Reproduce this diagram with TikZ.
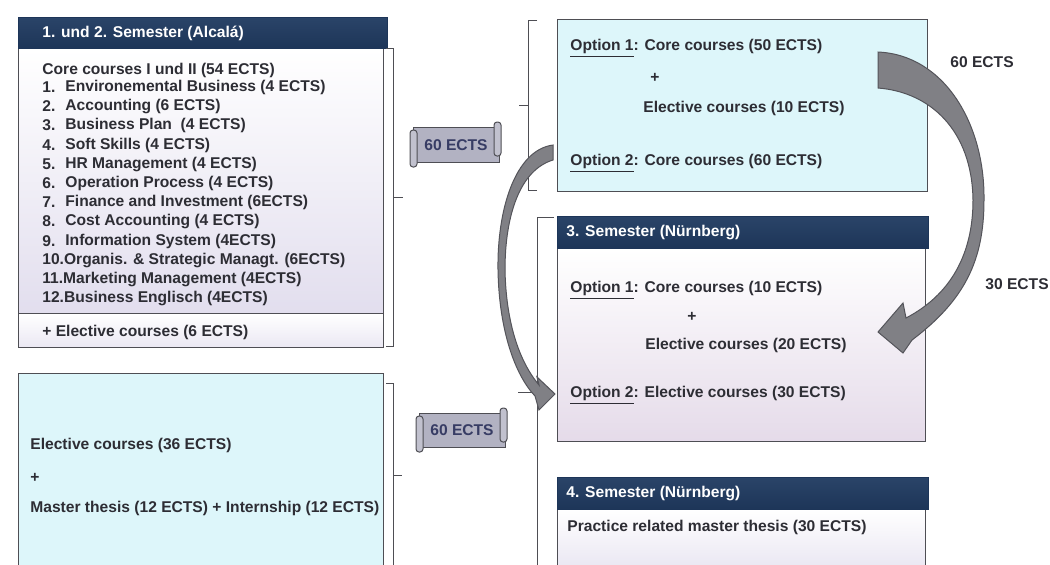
\documentclass[tikz,border=0pt]{standalone}
\usepackage{fontspec}
\setmainfont{Liberation Sans}
\usetikzlibrary{positioning}

\definecolor{navy}{RGB}{29,53,88}
\definecolor{navytop}{RGB}{42,68,104}
\definecolor{ink}{RGB}{45,45,52}
\definecolor{frame}{RGB}{78,78,84}
\definecolor{paleblue}{RGB}{221,246,250}
\definecolor{lilac}{RGB}{226,222,238}
\definecolor{scrollfill}{RGB}{178,178,194}
\definecolor{scrollink}{RGB}{55,60,100}
\definecolor{arrowgray}{RGB}{128,128,133}
\definecolor{arrowedge}{RGB}{84,84,90}

\begin{document}
\begin{tikzpicture}[x=0.5pt,y=-0.5pt]
  \tikzstyle{txt}=[anchor=west,inner sep=0pt,text=ink,font=\fontsize{7.8}{9}\selectfont\bfseries]
  \tikzstyle{hdrtxt}=[txt,text=white]
  \tikzstyle{hdr}=[anchor=north west,inner sep=0pt,draw=navy,top color=navytop,bottom color=navy,minimum height=16pt]
  \tikzstyle{panel}=[anchor=north west,inner sep=0pt,draw=frame,line width=0.6pt]
  \tikzstyle{brace}=[draw=frame,line width=0.5pt]
  \tikzstyle{scroll}=[draw=frame,fill=scrollfill,line width=0.5pt,inner sep=0pt,text=scrollink,font=\fontsize{7.8}{9}\selectfont\bfseries]
  \tikzstyle{roll}=[draw=frame,fill=scrollfill!80!white,line width=0.5pt,rounded corners=1.5pt]
  \tikzstyle{bigarrow}=[fill=arrowgray,draw=arrowedge,line width=0.5pt]

  \clip (0,0) rectangle (1050,564);

  % 1. und 2. Semester
  \node[panel,top color=white,bottom color=lilac,minimum width=182.5pt,minimum height=132.5pt] (semA) at (18,48) {};
  \node[panel,top color=white,bottom color=lilac!70!white,minimum width=182.5pt,minimum height=17pt] (elecA) at (18,313) {};
  \node[hdr,minimum width=184.5pt,minimum height=15.5pt] (hdrA) at (18,17) {};
  \node[hdrtxt] (tA) at (42,33) {1. und 2. Semester (Alcalá)};

  \node[txt] (core) at (42,70) {Core courses I und II (54 ECTS)};
  \node[txt] (n1) at (42,87) {1.};   \node[txt] (c1) at (65,87) {Environemental Business (4 ECTS)};
  \node[txt] (n2) at (42,106) {2.};  \node[txt] (c2) at (65,106) {Accounting (6 ECTS)};
  \node[txt] (n3) at (42,125) {3.};  \node[txt] (c3) at (65,125) {Business Plan\ \ (4 ECTS)};
  \node[txt] (n4) at (42,145) {4.};  \node[txt] (c4) at (65,145) {Soft Skills (4 ECTS)};
  \node[txt] (n5) at (42,164) {5.};  \node[txt] (c5) at (65,164) {HR Management (4 ECTS)};
  \node[txt] (n6) at (42,183) {6.};  \node[txt] (c6) at (65,183) {Operation Process (4 ECTS)};
  \node[txt] (n7) at (42,202) {7.};  \node[txt] (c7) at (65,202) {Finance and Investment (6ECTS)};
  \node[txt] (n8) at (42,221) {8.};  \node[txt] (c8) at (65,221) {Cost Accounting (4 ECTS)};
  \node[txt] (n9) at (42,241) {9.};  \node[txt] (c9) at (65,241) {Information System (4ECTS)};
  \node[txt] (c10) at (42,260) {10.Organis. \& Strategic Managt. (6ECTS)};
  \node[txt] (c11) at (42,279) {11.Marketing Management (4ECTS)};
  \node[txt] (c12) at (42,298) {12.Business Englisch (4ECTS)};
  \node[txt] (elA) at (42,332) {+ Elective courses (6 ECTS)};

  % alternative first year
  \node[panel,fill=paleblue,minimum width=182.5pt,minimum height=105pt] (semE) at (18,373) {};
  \node[txt] (e1) at (30,445) {Elective courses (36 ECTS)};
  \node[txt] (e2) at (30,478) {+};
  \node[txt] (e3) at (30,508) {Master thesis (12 ECTS) + Internship (12 ECTS)};

  % options
  \node[panel,fill=paleblue,minimum width=185pt,minimum height=86pt] (optB) at (557,19) {};
  \node[txt] (b1) at (570,48) {\underline{Option 1}: Core courses (50 ECTS)};
  \node[txt,anchor=center] (b2) at (655,78) {+};
  \node[txt] (b3) at (643,108) {Elective courses (10 ECTS)};
  \node[txt] (b4) at (570,163) {\underline{Option 2}: Core courses (60 ECTS)};

  % 3. Semester
  \node[panel,top color=white,bottom color=lilac!90!pink,minimum width=184pt,minimum height=96.5pt] (semC) at (557,248) {};
  \node[hdr,minimum width=185.5pt] (hdrC) at (557,216) {};
  \node[hdrtxt] (tC) at (566,232) {3. Semester (Nürnberg)};
  \node[txt] (k1) at (570,290) {\underline{Option 1}: Core courses (10 ECTS)};
  \node[txt,anchor=center] (k2) at (692,317) {+};
  \node[txt] (k3) at (645,345) {Elective courses (20 ECTS)};
  \node[txt] (k4) at (570,395) {\underline{Option 2}: Elective courses (30 ECTS)};

  % 4. Semester
  \node[panel,top color=white,bottom color=lilac,minimum width=184pt,minimum height=40pt] (semD) at (557,509) {};
  \node[hdr,minimum width=185.5pt] (hdrD) at (557,477) {};
  \node[hdrtxt] (tD) at (566,493) {4. Semester (Nürnberg)};
  \node[txt] (d1) at (567,527) {Practice related master thesis (30 ECTS)};

  % brackets
  \draw[brace] (386,48) -- (393,48) -- (393,346) -- (386,346);
  \draw[brace] (393,197) -- (403,197);
  \draw[brace] (386,383) -- (393,383) -- (393,570);
  \draw[brace] (393,475) -- (402,475);
  \draw[brace] (537,20) -- (528,20) -- (528,190) -- (537,190);
  \draw[brace] (528,105) -- (519,105);
  \draw[brace] (554,217) -- (537,217) -- (537,570);
  \draw[brace] (537,392) -- (518,392);

  % scroll labels
  \node[scroll,minimum width=43pt,minimum height=17.5pt] (ectsA) at (456,145) {60 ECTS};
  \draw[roll] (410,130) rectangle (417,167);
  \draw[roll] (494,122) rectangle (501,156);
  \node[scroll,minimum width=43pt,minimum height=17pt] (ectsE) at (462,430) {60 ECTS};
  \draw[roll] (416,416) rectangle (423,452);
  \draw[roll] (500,408) rectangle (507,442);

  % curved arrows
  \draw[bigarrow] (878,52) .. controls (945,55) and (985,125) .. (984,200)
    .. controls (984,260) and (965,300) .. (912,340) -- (903,353) -- (878,332) -- (903,303)
    -- (906,318) .. controls (950,295) and (973,255) .. (973,200)
    .. controls (972,130) and (930,92) .. (878,88) -- cycle;
  \draw[bigarrow] (553,145) .. controls (515,150) and (497,210) .. (498,270)
    .. controls (499,330) and (515,375) .. (535,396) -- (539,410) -- (555,394) -- (537,377)
    -- (539,385) .. controls (518,360) and (506,320) .. (505,270)
    .. controls (505,215) and (520,170) .. (553,160) -- cycle;

  \node[txt] (r1) at (950,62) {60 ECTS};
  \node[txt] (r2) at (985,284) {30 ECTS};
\end{tikzpicture}
\end{document}
